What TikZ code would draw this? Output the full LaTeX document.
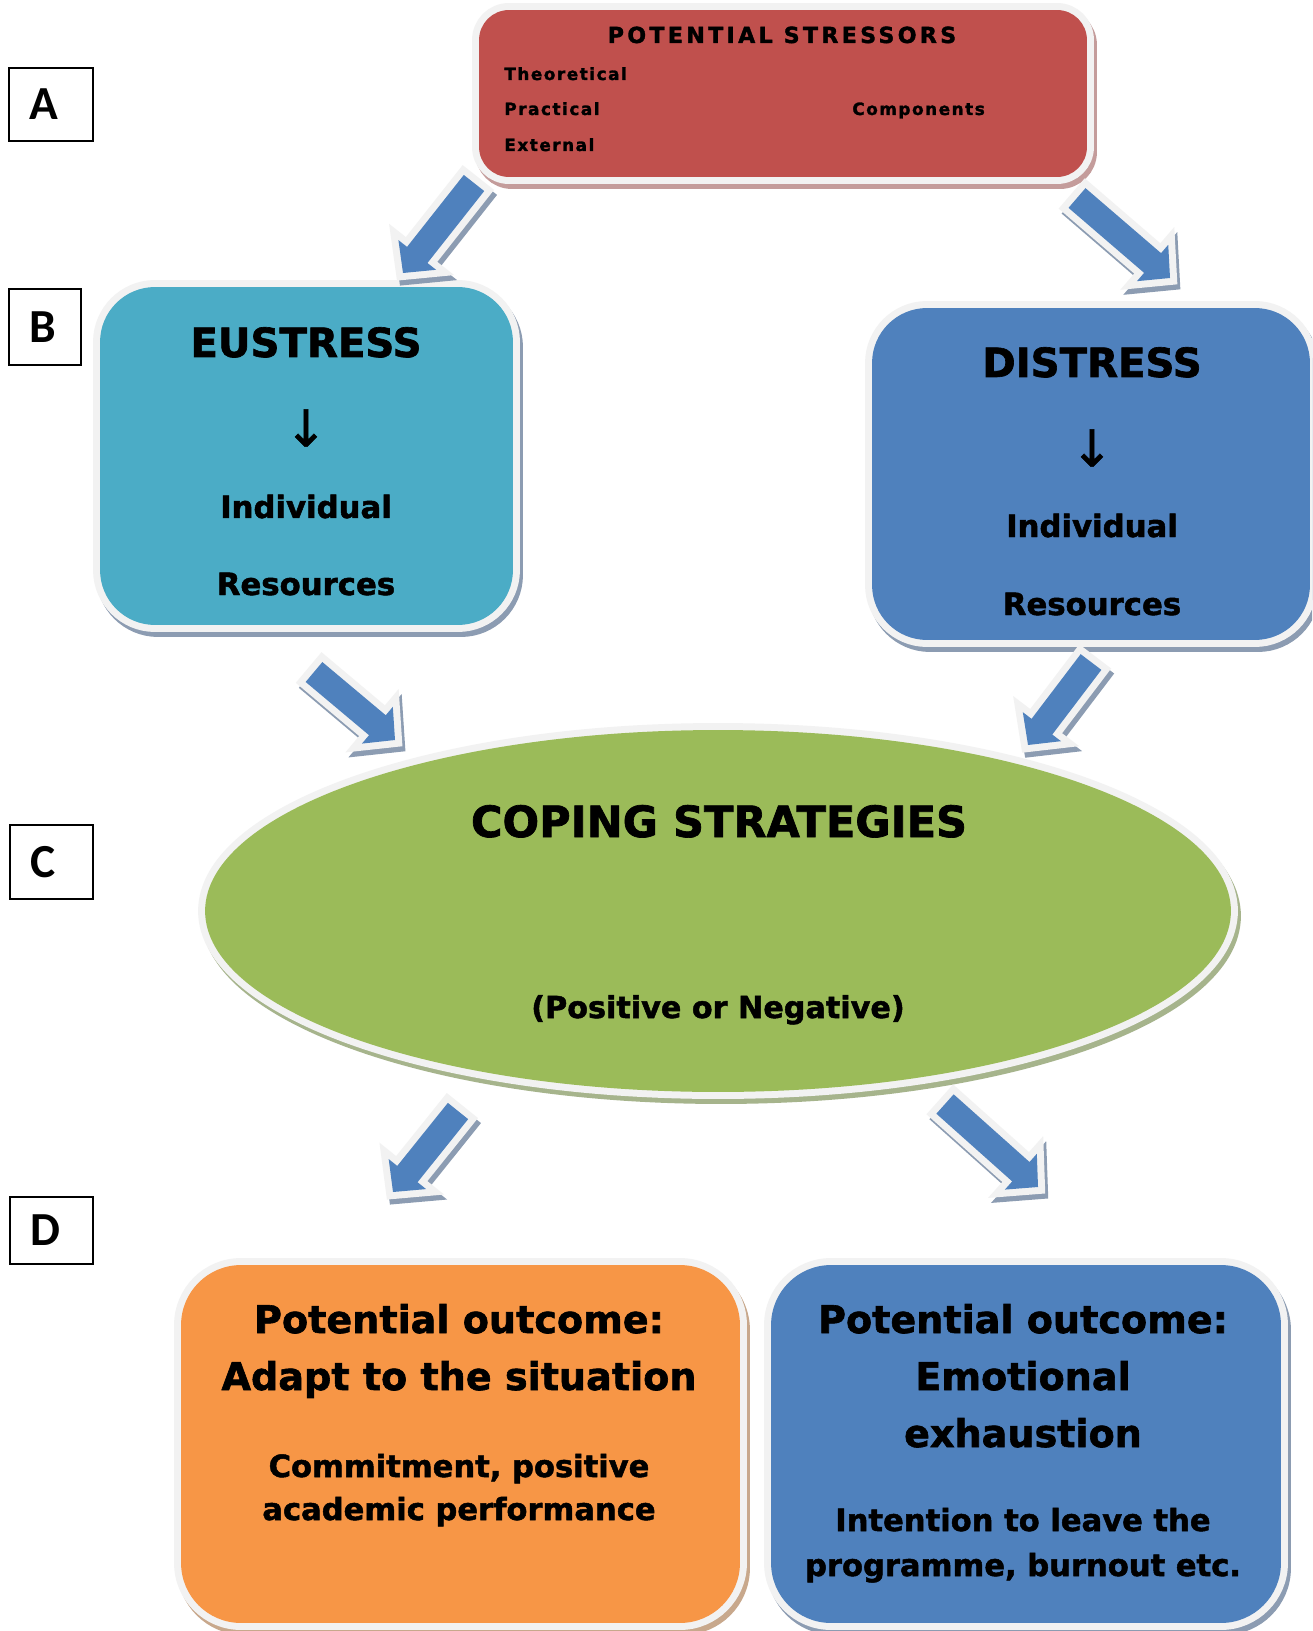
\documentclass[tikz,border=0pt]{standalone}
\usepackage{fontspec}
\setmainfont{DejaVu Sans}[BoldFeatures={FakeBold=1.6}]
\newfontfamily\tagfont{Carlito}
\newfontfamily\arrowfont{DejaVu Sans}[FakeBold=1.2]
\newfontfamily\widefont{DejaVu Sans}[LetterSpace=15, BoldFeatures={FakeBold=1.6}]
\newfontfamily\spreadfont{DejaVu Sans}[LetterSpace=9, BoldFeatures={FakeBold=1.6}]
\usepackage{tikz}
\usetikzlibrary{calc,shapes.geometric}

\definecolor{stressred}{HTML}{C0504D}
\definecolor{eublue}{HTML}{4BACC6}
\definecolor{disblue}{HTML}{4F81BD}
\definecolor{copegreen}{HTML}{9BBB59}
\definecolor{outorange}{HTML}{F79646}
\definecolor{rim}{HTML}{F2F2F2}
\definecolor{redshade}{HTML}{C49C9B}
\definecolor{blueshade}{HTML}{8C9CB2}
\definecolor{greenshade}{HTML}{A6B48C}
\definecolor{orangeshade}{HTML}{C8A88C}

% block arrow from a tail point #1 to a tip point #2
\newcommand{\blockarrow}[2]{%
  \coordinate (#1-b) at ($(#2)!0.46cm!(#1)$);
  \path[fatarrow] ($(#1)!0.26cm!90:(#2)$) -- ($(#1-b)!0.26cm!90:(#2)$)
    -- ($(#1-b)!0.48cm!90:(#2)$) -- (#2) -- ($(#1-b)!0.48cm!-90:(#2)$)
    -- ($(#1-b)!0.26cm!-90:(#2)$) -- ($(#1)!0.26cm!-90:(#2)$) -- cycle;}

\begin{document}
\begin{tikzpicture}[
x=0.02cm, y=-0.02cm,
lift/.style={preaction={fill=#1, draw=#1, line width=0.28cm,
  transform canvas={xshift=0.06cm, yshift=-0.1cm}}},
rimmed/.style={preaction={draw=rim, line width=0.28cm}},
panel/.style={rectangle, rounded corners=#1, inner sep=0pt},
fatarrow/.style={lift=blueshade, rimmed, fill=disblue, line join=miter},
tag/.style={draw, line width=0.04cm, inner xsep=0.4cm, inner ysep=0pt,
  align=left, font=\tagfont\fontsize{27}{27}\selectfont\bfseries},
head/.style={anchor=base, inner sep=0pt, font=\widefont\fontsize{12.6}{15}\selectfont\bfseries},
item/.style={anchor=base west, inner sep=0pt, font=\spreadfont\fontsize{9.6}{11}\selectfont\bfseries},
title/.style={anchor=base, font=\fontsize{22.9}{27}\selectfont\bfseries},
sub/.style={anchor=base, font=\fontsize{17.5}{21}\selectfont\bfseries},
big/.style={anchor=base, font=\fontsize{21.7}{26}\selectfont\bfseries},
small/.style={anchor=base, font=\fontsize{17.4}{21}\selectfont\bfseries},
down/.style={font=\arrowfont\fontsize{29}{29}\selectfont}
]
\path[fill=white, use as bounding box] (0,0) rectangle (1312,1631);
\clip (0,0) rectangle (1312,1631);

% level labels
\node[tag, text width=0.88cm, minimum height=1.46cm] (A) at (51,104.5) {A};
\node[tag, text width=0.64cm, minimum height=1.52cm] (B) at (45,327) {B};
\node[tag, text width=0.86cm, minimum height=1.48cm] (C) at (51.5,862) {C};
\node[tag, text width=0.86cm, minimum height=1.34cm] (D) at (51.5,1230) {D};

% stressors
\node[panel=0.6cm, lift=redshade, rimmed, fill=stressred,
  minimum width=12.16cm, minimum height=3.34cm] (stress) at (783,93.5) {};
\node[head] (stresstitle) at (782,43) {POTENTIAL STRESSORS};
\node[item] (theo) at (504,80) {Theoretical};
\node[item] (prac) at (504,115) {Practical};
\node[item] (ext) at (504,151) {External};
\node[item] (comp) at (852,115) {Components};

% eustress / distress
\node[panel=1.1cm, lift=blueshade, rimmed, fill=eublue,
  minimum width=8.26cm, minimum height=6.76cm] (eu) at (306.5,456) {};
\node[title] (eutitle) at (306,357) {EUSTRESS};
\node[down] (eudown) at (306,428) {↓};
\node[sub] (euind) at (306,518) {Individual};
\node[sub] (eures) at (306,595) {Resources};

\node[panel=1.1cm, lift=blueshade, rimmed, fill=disblue,
  minimum width=8.76cm, minimum height=6.64cm] (dis) at (1091,474) {};
\node[title] (distitle) at (1092,377) {DISTRESS};
\node[down] (disdown) at (1092,448) {↓};
\node[sub] (disind) at (1092,537) {Individual};
\node[sub] (disres) at (1092,615) {Resources};

% coping
\node[ellipse, inner sep=0pt, lift=greenshade, rimmed, fill=copegreen,
  minimum width=20.52cm, minimum height=7.24cm] (cope) at (718,911) {};
\node[anchor=base, font=\fontsize{24.5}{29}\selectfont\bfseries] (copetitle) at (719,837) {COPING STRATEGIES};
\node[anchor=base, font=\fontsize{17.2}{21}\selectfont\bfseries] (copesign) at (718,1018) {(Positive or Negative)};

% outcomes
\node[panel=1.2cm, lift=orangeshade, rimmed, fill=outorange,
  minimum width=11.18cm, minimum height=7.16cm] (adapt) at (460.5,1444) {};
\node[big] (adapt1) at (459,1333) {Potential outcome:};
\node[big] (adapt2) at (459,1390) {Adapt to the situation};
\node[small] (adapt3) at (459,1477) {Commitment, positive};
\node[small] (adapt4) at (459,1520) {academic performance};

\node[panel=1.2cm, lift=blueshade, rimmed, fill=disblue,
  minimum width=10.2cm, minimum height=7.16cm] (exh) at (1026,1444) {};
\node[big] (exh1) at (1023,1333) {Potential outcome:};
\node[big] (exh2) at (1023,1390) {Emotional};
\node[big] (exh3) at (1023,1447) {exhaustion};
\node[small] (exh4) at (1023,1531) {Intention to leave the};
\node[small] (exh5) at (1023,1576) {programme, burnout etc.};

% arrows between the levels
\coordinate (s1) at (474,183);   \coordinate (e1) at (403,273);
\coordinate (s2) at (1077,198);  \coordinate (e2) at (1170,278);
\coordinate (s3) at (314,672);   \coordinate (e3) at (395,740);
\coordinate (s4) at (1091,662);  \coordinate (e4) at (1028,745);
\coordinate (s5) at (458,1111);  \coordinate (e5) at (393,1192);
\coordinate (s6) at (945,1104);  \coordinate (e6) at (1038,1187);
\blockarrow{s1}{e1}
\blockarrow{s2}{e2}
\blockarrow{s3}{e3}
\blockarrow{s4}{e4}
\blockarrow{s5}{e5}
\blockarrow{s6}{e6}
\end{tikzpicture}
\end{document}
